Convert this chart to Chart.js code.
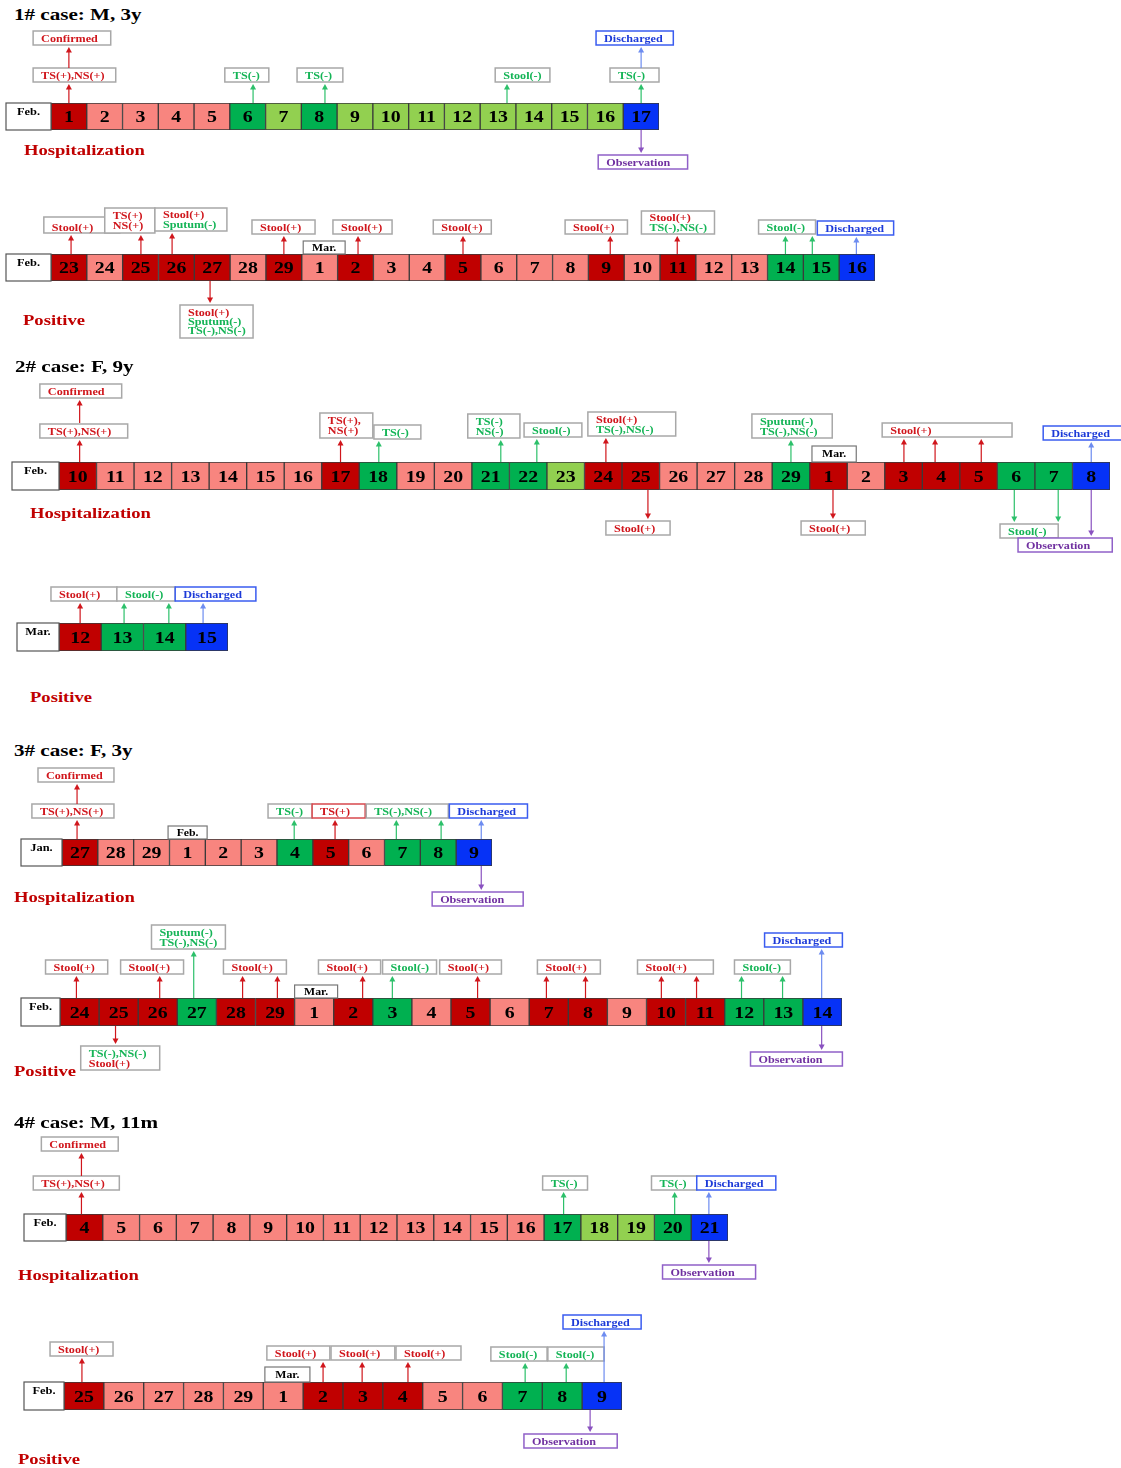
<!DOCTYPE html>
<html><head><meta charset="utf-8">
<script src="https://cdn.jsdelivr.net/npm/chart.js@4"></script>
<style>
html,body{margin:0;padding:0;background:#fff;}
#page{position:relative;width:1121px;height:1468px;overflow:hidden;background:#fff;}
#page canvas{position:absolute;left:0;}
.t{position:absolute;font-family:"Liberation Serif","Times New Roman",serif;font-weight:bold;white-space:nowrap;transform-origin:0 0;transform:scaleX(1.24);line-height:1;z-index:5;}
.title{font-size:17px;color:#000;}
.lab{font-size:15px;color:#c00000;}
</style></head>
<body><div id="page"></div>
<script>
// ---------------- DATA ----------------
// status codes: P = positive test day (dark red), H = hospitalized (light red),
// N = negative test (dark green), L = negative period (light green), D = discharged (blue)
const case1aDays   = ['1','2','3','4','5','6','7','8','9','10','11','12','13','14','15','16','17'];
const case1aStatus = ['P','H','H','H','H','N','L','N','L','L','L','L','L','L','L','L','D'];
const case1bDays   = ['23','24','25','26','27','28','29','1','2','3','4','5','6','7','8','9','10','11','12','13','14','15','16'];
const case1bStatus = ['P','H','P','P','P','H','P','H','P','H','H','P','H','H','H','P','H','P','H','H','N','N','D'];
const case2aDays   = ['10','11','12','13','14','15','16','17','18','19','20','21','22','23','24','25','26','27','28','29','1','2','3','4','5','6','7','8'];
const case2aStatus = ['P','H','H','H','H','H','H','P','N','H','H','N','N','L','P','P','H','H','H','N','P','H','P','P','P','N','N','D'];
const case2bDays   = ['12','13','14','15'];
const case2bStatus = ['P','N','N','D'];
const case3aDays   = ['27','28','29','1','2','3','4','5','6','7','8','9'];
const case3aStatus = ['P','H','H','H','H','H','N','P','H','N','N','D'];
const case3bDays   = ['24','25','26','27','28','29','1','2','3','4','5','6','7','8','9','10','11','12','13','14'];
const case3bStatus = ['P','P','P','N','P','P','H','P','N','H','P','H','P','P','H','P','P','N','N','D'];
const case4aDays   = ['4','5','6','7','8','9','10','11','12','13','14','15','16','17','18','19','20','21'];
const case4aStatus = ['P','H','H','H','H','H','H','H','H','H','H','H','H','N','L','L','N','D'];
const case4bDays   = ['25','26','27','28','29','1','2','3','4','5','6','7','8','9'];
const case4bStatus = ['P','H','H','H','H','H','P','P','P','H','H','N','N','D'];

// ---------------- ANNOTATIONS (cell-index units) ----------------
const case1aNotes = [
 {at:[0], lines:[['TS(+),NS(+)','r']], box:[-1.0,1.31], gap:21},
 {at:[0], lines:[['Confirmed','r']], box:[-1.0,1.17], gap:58, from:35},
 {at:[5.15], lines:[['TS(-)','g']], box:[4.36,5.59], gap:21},
 {at:[7.16], lines:[['TS(-)','g']], box:[6.38,7.66], gap:21},
 {at:[12.25], lines:[['Stool(-)','g']], box:[11.92,13.45], gap:21},
 {at:[16], lines:[['TS(-)','g']], box:[15.13,16.5], gap:21},
 {at:[16], lines:[['Discharged','b']], box:[14.74,16.9], gap:58, from:35, border:'b'},
 {at:[16], lines:[['Observation','p']], box:[14.8,17.3], gap:25, side:'down', border:'p'}
];
const case1bNotes = [
 {at:[0.06], lines:[['Stool(+)','r']], box:[-0.70,1.42], gap:21, h:16, dy:2},
 {at:[2.01], lines:[['TS(+)','r'],['NS(+)','r']], box:[1.0,2.4], gap:21, h:25},
 {at:[2.88], lines:[['Stool(+)','r'],['Sputum(-)','g']], box:[2.4,4.41], gap:23, h:23},
 {at:[6.0], lines:[['Stool(+)','r']], box:[5.11,6.87], gap:20},
 {at:[8.07], lines:[['Stool(+)','r']], box:[7.37,9.02], gap:20},
 {at:[11.0], lines:[['Stool(+)','r']], box:[10.17,11.79], gap:20},
 {at:[15.11], lines:[['Stool(+)','r']], box:[13.85,15.59], gap:20},
 {at:[16.98], lines:[['Stool(+)','r'],['TS(-),NS(-)','g']], box:[15.98,18.02], gap:20, h:23},
 {at:[20.0,20.75], lines:[['Stool(-)','g']], box:[19.25,20.84], gap:20},
 {at:[21.98], lines:[['Discharged','b']], box:[20.89,23.02], gap:19, border:'b'},
 {at:[3.94], lines:[['Stool(+)','r'],['Sputum(-)','g'],['TS(-),NS(-)','g']], box:[3.1,5.14], gap:24, h:33, side:'down'}
];
const case2aNotes = [
 {at:[0.05], lines:[['TS(+),NS(+)','r']], box:[-1.01,1.33], gap:24},
 {at:[0.05], lines:[['Confirmed','r']], box:[-1.01,1.17], gap:64, from:39},
 {at:[7.0], lines:[['TS(+),','r'],['NS(+)','r']], box:[6.45,7.86], gap:24, h:25},
 {at:[8.02], lines:[['TS(-)','g']], box:[7.89,9.14], gap:23},
 {at:[11.27], lines:[['TS(-)','g'],['NS(-)','g']], box:[10.39,11.78], gap:24, h:24},
 {at:[12.23], lines:[['Stool(-)','g']], box:[11.89,13.43], gap:25},
 {at:[14.07], lines:[['Stool(+)','r'],['TS(-),NS(-)','g']], box:[13.59,15.93], gap:26, h:24},
 {at:[19.0], lines:[['Sputum(-)','g'],['TS(-),NS(-)','g']], box:[17.96,20.1], gap:24, h:24},
 {at:[22.01,22.84,24.07], lines:[['Stool(+)','r']], box:[21.43,24.89], gap:25},
 {at:[27.0], lines:[['Discharged','b']], box:[25.72,28.2], gap:22, border:'b'},
 {at:[15.19], lines:[['Stool(+)','r']], box:[14.07,15.78], gap:31, side:'down'},
 {at:[20.12], lines:[['Stool(+)','r']], box:[19.27,20.98], gap:31, side:'down'},
 {at:[24.95,26.12], lines:[['Stool(-)','g']], box:[24.57,26.12], gap:34, side:'down'},
 {at:[27.0], lines:[['Observation','p']], box:[25.05,27.56], gap:48, side:'down', border:'p'}
];
const case2bNotes = [
 {at:[0], lines:[['Stool(+)','r']], box:[-0.69,0.87], gap:22},
 {at:[1.04,2.1], lines:[['Stool(-)','g']], box:[0.87,2.25], gap:22},
 {at:[2.91], lines:[['Discharged','b']], box:[2.25,4.16], gap:22, border:'b'}
];
const case3aNotes = [
 {at:[-0.08], lines:[['TS(+),NS(+)','r']], box:[-1.34,0.95], gap:21},
 {at:[-0.08], lines:[['Confirmed','r']], box:[-1.17,0.95], gap:57, from:35},
 {at:[5.98], lines:[['TS(-)','g']], box:[5.25,6.48], gap:21},
 {at:[7.12], lines:[['TS(+)','r']], box:[6.48,7.96], gap:21, border:'r'},
 {at:[8.83,10.08], lines:[['TS(-),NS(-)','g']], box:[7.99,10.28], gap:21},
 {at:[11.2], lines:[['Discharged','b']], box:[10.31,12.49], gap:21, border:'b'},
 {at:[11.2], lines:[['Observation','p']], box:[9.83,12.37], gap:26, side:'down', border:'p'}
];
const case3bNotes = [
 {at:[-0.08], lines:[['Stool(+)','r']], box:[-0.87,0.72], gap:24},
 {at:[2.05], lines:[['Stool(+)','r']], box:[1.05,2.66], gap:24},
 {at:[2.92], lines:[['Sputum(-)','g'],['TS(-),NS(-)','g']], box:[1.84,3.73], gap:49, h:24},
 {at:[4.17,5.06], lines:[['Stool(+)','r']], box:[3.68,5.29], gap:24},
 {at:[7.24], lines:[['Stool(+)','r']], box:[6.11,7.7], gap:24},
 {at:[8.0], lines:[['Stool(-)','g']], box:[7.75,9.13], gap:24},
 {at:[10.18], lines:[['Stool(+)','r']], box:[9.21,10.79], gap:24},
 {at:[11.94,12.94], lines:[['Stool(+)','r']], box:[11.71,13.32], gap:24},
 {at:[14.88,15.78], lines:[['Stool(+)','r']], box:[14.27,16.21], gap:24},
 {at:[16.93,17.98], lines:[['Stool(-)','g']], box:[16.75,18.18], gap:24},
 {at:[18.98], lines:[['Discharged','b']], box:[17.52,19.51], gap:51, border:'b'},
 {at:[0.92], lines:[['TS(-),NS(-)','g'],['Stool(+)','r']], box:[0.03,2.05], gap:20, h:24, side:'down'},
 {at:[18.98], lines:[['Observation','p']], box:[17.16,19.51], gap:26, side:'down', border:'p'}
];
const case4aNotes = [
 {at:[-0.08], lines:[['TS(+),NS(+)','r']], box:[-1.39,0.95], gap:24},
 {at:[-0.08], lines:[['Confirmed','r']], box:[-1.17,0.92], gap:63, from:38},
 {at:[13.03], lines:[['TS(-)','g']], box:[12.46,13.68], gap:24},
 {at:[16.05], lines:[['TS(-)','g']], box:[15.42,16.65], gap:24},
 {at:[16.98], lines:[['Discharged','b']], box:[16.65,18.8], gap:24, border:'b'},
 {at:[16.98], lines:[['Observation','p']], box:[15.72,18.25], gap:24, side:'down', border:'p'}
];
const case4bNotes = [
 {at:[-0.05], lines:[['Stool(+)','r']], box:[-0.85,0.73], gap:26},
 {at:[6.0], lines:[['Stool(+)','r']], box:[4.59,6.17], gap:22},
 {at:[6.98], lines:[['Stool(+)','r']], box:[6.2,7.8], gap:22},
 {at:[8.13], lines:[['Stool(+)','r']], box:[7.83,9.46], gap:22},
 {at:[11.07], lines:[['Stool(-)','g']], box:[10.21,11.62], gap:21},
 {at:[12.1], lines:[['Stool(-)','g']], box:[11.64,13.05], gap:21},
 {at:[13.05], lines:[['Discharged','b']], box:[12.02,13.98], gap:53, border:'b'},
 {at:[12.7], lines:[['Observation','p']], box:[11.04,13.38], gap:24, side:'down', border:'p'}
];

// ---------------- STYLE / LAYOUT ----------------
const CELL = {P:'#c00000', H:'#f8857f', N:'#00b050', L:'#92d050', D:'#0632f6'};
const TXT = {r:'#d0161c', g:'#14b456', b:'#1c3ad8', p:'#7030a0', k:'#000'};
const BORDER = {gray:'#a8a8a8', b:'#3a5cf0', p:'#9060c8', r:'#d8484d'};
const ARROW = {r:'#d0161c', g:'#2cc06a', b:'#6d8cf0', p:'#8a52c0'};
const S = 1.24;
const NOTE_FS = 9.8;
const FONT = '"Liberation Serif","Times New Roman",serif';

const strips = [
 {days:case1aDays, status:case1aStatus, month:'Feb.', notes:case1aNotes, mbox:[],
  L:{ml:6, left:51, right:659, top:103, bottom:130, band:[25,180]}},
 {days:case1bDays, status:case1bStatus, month:'Feb.', notes:case1bNotes, mbox:[{t:'Mar.', box:[6.54,7.71], h:13}],
  L:{ml:6, left:51, right:875, top:254, bottom:281, band:[195,345]}},
 {days:case2aDays, status:case2aStatus, month:'Feb.', notes:case2aNotes, mbox:[{t:'Mar.', box:[19.56,20.74], h:16}],
  L:{ml:12, left:59, right:1110, top:462, bottom:490, band:[375,560]}},
 {days:case2bDays, status:case2bStatus, month:'Mar.', notes:case2bNotes, mbox:[],
  L:{ml:17, left:59, right:228, top:623, bottom:651, band:[575,660]}},
 {days:case3aDays, status:case3aStatus, month:'Jan.', notes:case3aNotes, mbox:[{t:'Feb.', box:[2.46,3.55], h:13}],
  L:{ml:21, left:62, right:492, top:839, bottom:866, band:[760,912]}},
 {days:case3bDays, status:case3bStatus, month:'Feb.', notes:case3bNotes, mbox:[{t:'Mar.', box:[5.5,6.6], h:13}],
  L:{ml:21, left:60, right:842, top:998, bottom:1026, band:[918,1075]}},
 {days:case4aDays, status:case4aStatus, month:'Feb.', notes:case4aNotes, mbox:[],
  L:{ml:24, left:66, right:728, top:1214, bottom:1241, band:[1130,1290]}},
 {days:case4bDays, status:case4bStatus, month:'Feb.', notes:case4bNotes, mbox:[{t:'Mar.', box:[4.54,5.67], h:15}],
  L:{ml:24, left:64, right:622, top:1382, bottom:1410, band:[1305,1458]}}
];

const texts = [
 ['1# case: M, 3y',14,16,'title'], ['Hospitalization',24,151,'lab'], ['Positive',23,321,'lab'],
 ['2# case: F, 9y',15,368,'title'], ['Hospitalization',30,514,'lab'], ['Positive',30,698,'lab'],
 ['3# case: F, 3y',14,752,'title'], ['Hospitalization',14,898,'lab'], ['Positive',14,1072,'lab'],
 ['4# case: M, 11m',14,1124,'title'], ['Hospitalization',18,1276,'lab'], ['Positive',18,1460,'lab']
];

// ---------------- DRAWING ----------------
function sText(ctx, str, x, y, size, color, align){
  ctx.save(); ctx.translate(x, y); ctx.scale(S, 1);
  ctx.font = 'bold ' + size + 'px ' + FONT;
  ctx.fillStyle = color; ctx.textAlign = align || 'left'; ctx.textBaseline = 'middle';
  ctx.fillText(str, 0, 0); ctx.restore();
}
function arrow(ctx, x, y0, y1, color){
  const dir = Math.sign(y1 - y0);
  ctx.save();
  ctx.strokeStyle = color; ctx.lineWidth = 1.2;
  ctx.beginPath(); ctx.moveTo(x, y0); ctx.lineTo(x, y1 - dir*4); ctx.stroke();
  ctx.fillStyle = color; ctx.beginPath();
  ctx.moveTo(x, y1); ctx.lineTo(x - 3, y1 - dir*5.5); ctx.lineTo(x + 3, y1 - dir*5.5);
  ctx.closePath(); ctx.fill(); ctx.restore();
}
function rectBox(ctx, l, t, r, b, color, lw){
  ctx.save(); ctx.fillStyle = '#fff'; ctx.fillRect(l, t, r - l, b - t);
  ctx.strokeStyle = color; ctx.lineWidth = lw; ctx.strokeRect(l, t, r - l, b - t); ctx.restore();
}

function timelinePlugin(sp){
  return {
    id: 'timeline',
    afterDatasetsDraw(chart){
      const ctx = chart.ctx, xs = chart.scales.x, ca = chart.chartArea;
      const X = v => xs.getPixelForValue(v);
      const top = ca.top, bot = ca.bottom;
      // month label cell
      const ml = sp.L.ml;
      ctx.save();
      ctx.fillStyle = '#fff'; ctx.fillRect(ml, top, ca.left - ml, bot - top);
      ctx.strokeStyle = '#555'; ctx.lineWidth = 1.2; ctx.strokeRect(ml, top, ca.left - ml, bot - top);
      ctx.restore();
      sText(ctx, sp.month, (ml + ca.left)/2, top + (bot - top)*0.34, 10, '#000', 'center');
      // day numbers
      chart.getDatasetMeta(0).data.forEach((bar, i) => {
        sText(ctx, sp.days[i], bar.x, (top + bot)/2 + 1.5, 16, '#000', 'center');
      });
      // month change boxes
      sp.mbox.forEach(m => {
        const l = X(m.box[0]), r = X(m.box[1]);
        rectBox(ctx, l, top - m.h, r, top, '#777', 1.2);
        sText(ctx, m.t, (l + r)/2, top - m.h/2 + 1, 9.5, '#000', 'center');
      });
      // annotations
      sp.notes.forEach(n => {
        const side = n.side || 'up';
        const h = n.h || (n.lines.length === 1 ? 14 : n.lines.length === 2 ? 24 : 33);
        const l = X(n.box[0]), r = X(n.box[1]);
        let bt, bb;
        if (side === 'up'){ bb = top - n.gap; bt = bb - h; } else { bt = bot + n.gap; bb = bt + h; }
        const bc = BORDER[n.border || 'gray'];
        rectBox(ctx, l, bt, r, bb, bc, 1.5);
        const nl = n.lines.length, cy = (bt + bb)/2 + 1 + (n.dy || 0);
        const sp2 = nl === 3 ? 9 : 10;
        n.lines.forEach((ln, i) => {
          sText(ctx, ln[0], l + 8, cy + (i - (nl - 1)/2)*sp2, NOTE_FS, TXT[ln[1]], 'left');
        });
        let ac;
        if (n.border === 'b') ac = ARROW.b;
        else if (n.border === 'p') ac = ARROW.p;
        else if (n.lines.some(ln => ln[1] === 'r')) ac = ARROW.r;
        else ac = ARROW.g;
        n.at.forEach(a => {
          const ax = X(a);
          if (side === 'up') arrow(ctx, ax, top - (n.from || 0), bb + 2, ac);
          else arrow(ctx, ax, bot + (n.from || 0), bt - 2, ac);
        });
      });
    }
  };
}

const page = document.getElementById('page');
strips.forEach(sp => {
  const L = sp.L, H = L.band[1] - L.band[0];
  const c = document.createElement('canvas');
  c.width = 1121; c.height = H;
  c.style.top = L.band[0] + 'px'; c.style.width = '1121px'; c.style.height = H + 'px';
  page.appendChild(c);
  new Chart(c, {
    type: 'bar',
    data: {
      labels: sp.days,
      datasets: [{
        data: sp.status.map(() => 1),
        backgroundColor: sp.status.map(s => CELL[s]),
        borderColor: '#3a3a3a', borderWidth: 1, borderSkipped: false,
        barPercentage: 1, categoryPercentage: 1
      }]
    },
    options: {
      responsive: false, animation: false, events: [],
      layout: {padding: {left: L.left, right: 1121 - L.right, top: L.top - L.band[0], bottom: L.band[1] - L.bottom}},
      scales: {x: {display: false}, y: {display: false, min: 0, max: 1}},
      plugins: {legend: {display: false}, tooltip: {enabled: false}}
    },
    plugins: [timelinePlugin(sp)]
  });
});

texts.forEach(t => {
  const d = document.createElement('div');
  d.className = 't ' + t[3];
  d.textContent = t[0];
  const fs = t[3] === 'title' ? 17 : 15;
  d.style.left = t[1] + 'px';
  d.style.top = (t[2] - fs*0.56) + 'px';
  page.appendChild(d);
});
</script>
</body></html>
